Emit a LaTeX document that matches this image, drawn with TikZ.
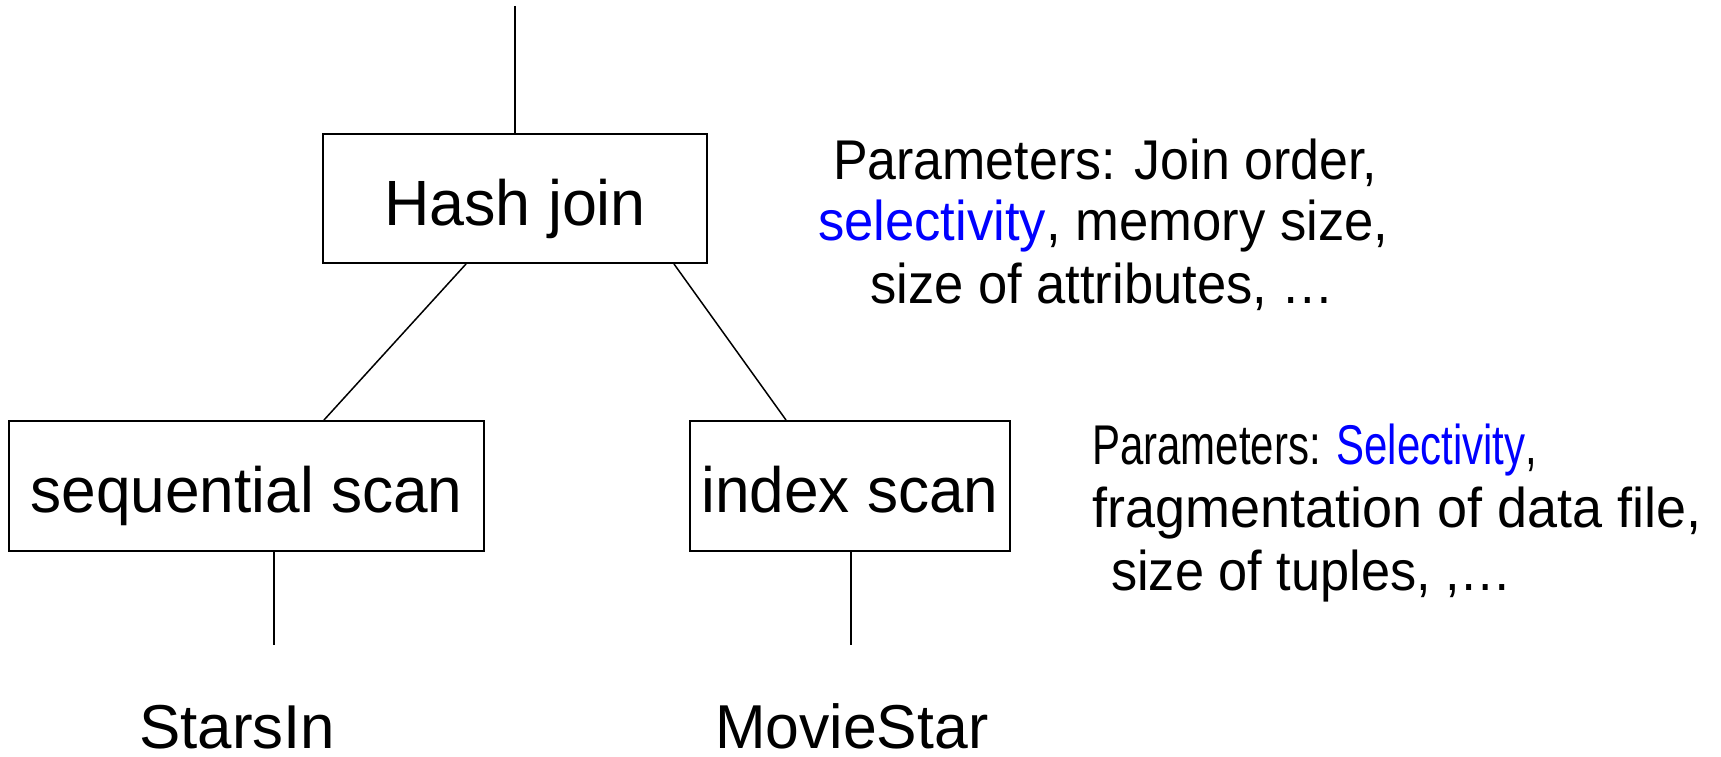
\documentclass[tikz,border=0pt]{standalone}
\usepackage{fontspec}
\setmainfont{Liberation Sans}
\usepackage{graphicx}
\definecolor{selblue}{RGB}{0,0,255}
\newcommand\fitw[2]{\resizebox{#1pt}{\height}{#2}}
\begin{document}
\begin{tikzpicture}[x=1pt,y=-1pt,
  opbox/.style={draw,line width=2pt,inner sep=0pt,text height=53pt,text depth=0pt,
    font=\fontsize{64}{70}\selectfont},
  conn/.style={line width=1.5pt},
  lbl/.style={inner sep=0pt,anchor=base west,text depth=0pt,font=\fontsize{62}{70}\selectfont},
  par/.style={inner sep=0pt,anchor=base west,font=\fontsize{56}{62}\selectfont}]
\useasboundingbox (0,0) rectangle (1721,757);
\node[opbox,minimum width=384pt,minimum height=129pt] (hash) at (515,198.5) {\fitw{262}{Hash join}};
\node[opbox,minimum width=475pt,minimum height=130pt] (seq) at (246.5,486) {\fitw{432}{sequential scan}};
\node[opbox,minimum width=320pt,minimum height=130pt] (idx) at (850,486) {\fitw{297}{index scan}};
\coordinate (top) at (515,6);
\draw[conn] (top) -- (hash.north);
\draw[conn] (hash.south -| 466,0) -- (seq.north -| 324,0);
\draw[conn] (hash.south -| 674,0) -- (idx.north -| 786,0);
\coordinate (seqend) at (274,645);
\coordinate (idxend) at (851,645);
\draw[conn] (seq.south -| seqend) -- (seqend);
\draw[conn] (idx.south -| idxend) -- (idxend);
\node[lbl] (stars) at (139,748) {\fitw{196}{StarsIn}};
\node[lbl] (movie) at (715,748) {\fitw{273}{MovieStar}};
\node[par] (pa1) at (833,179) {\fitw{544}{Parameters: Join order,}};
\node[par] (pa2) at (818,240) {\fitw{570}{\textcolor{selblue}{selectivity}, memory size,}};
\node[par] (pa3) at (870,303) {\fitw{464}{size of attributes, …}};
\node[par] (pb1) at (1092,464) {\fitw{445}{Parameters: \textcolor{selblue}{Selectivity},}};
\node[par] (pb2) at (1092,527) {\fitw{609}{fragmentation of data file,}};
\node[par] (pb3) at (1111,590) {\fitw{401}{size of tuples, ,…}};
\end{tikzpicture}
\end{document}
